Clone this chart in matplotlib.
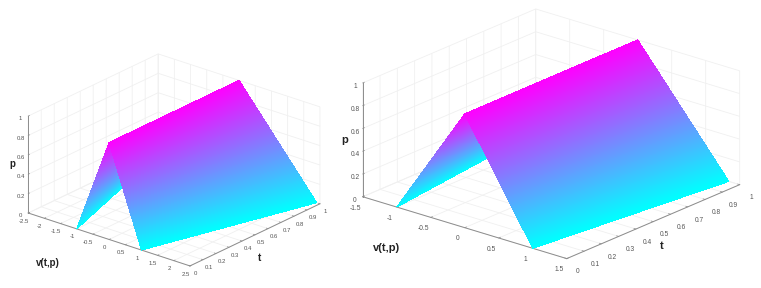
import numpy as np
import matplotlib
matplotlib.use("Agg")
import matplotlib.pyplot as plt

plt.rcParams['font.family'] = ['Liberation Sans', 'DejaVu Sans']

W, H = 761, 288

# values: membership p against v at the two ends of t
t_ends = [0, 1]
p_left_side = [0, 1]
p_right_side = [1, 0]
v_left_a = [[-1, 0], [-2.4, 0]]
v_right_a = [[0, 1], [0, 2.4]]
v_left_b = [[-1, 0], [-1.34, 0]]
v_right_b = [[0, 1], [0, 1.34]]

v_ticks_a = [-2.5, -2, -1.5, -1, -0.5, 0, 0.5, 1, 1.5, 2, 2.5]
v_labels_a = ['-2.5', '-2', '-1.5', '-1', '-0.5', '0', '0.5', '1', '1.5', '2', '2.5']
v_ticks_b = [-1.5, -1, -0.5, 0, 0.5, 1, 1.5]
v_labels_b = ['-1.5', '-1', '-0.5', '0', '0.5', '1', '1.5']
t_ticks = [0, 0.1, 0.2, 0.3, 0.4, 0.5, 0.6, 0.7, 0.8, 0.9, 1]
t_labels = ['0', '0.1', '0.2', '0.3', '0.4', '0.5', '0.6', '0.7', '0.8', '0.9', '1']
p_ticks = [0, 0.2, 0.4, 0.6, 0.8, 1]
p_labels = ['0', '0.2', '0.4', '0.6', '0.8', '1']

GRID = '#f0f0f0'
AXIS = '#8c8c8c'
TICK_TXT = '#555555'
BANDS = 120  # only splits each flat face finely so the colour can grade


def px_rect(left, top, size):
    return [left / W, (H - top - size) / H, size / W, size / H]


def fill_face(ax, v_rows, p_pair, order):
    # split the face between its two read-off p values for the colour ramp
    s = np.linspace(0, 1, BANDS + 1)
    t_grid, s_grid = np.meshgrid(t_ends, s)
    v0 = np.array(v_rows)[:, 0]
    v1 = np.array(v_rows)[:, 1]
    vv = v0[None, :] * (1 - s_grid) + v1[None, :] * s_grid
    pp = p_pair[0] * (1 - s_grid) + p_pair[1] * s_grid
    ax.plot_surface(vv, t_grid, pp, cmap='cool', vmin=0, vmax=1, rstride=1, cstride=1,
                    linewidth=0, antialiased=False, shade=False, zorder=order)


def panel(rect, elev, azim, aspect, v_left, v_right, v_ticks, v_labels, v_lim, fs, xpad, ypad):
    ax = fig.add_axes(rect, projection='3d', proj_type='ortho', computed_zorder=False)
    ax.view_init(elev=elev, azim=azim)
    ax.set_box_aspect(aspect)
    ax.patch.set_alpha(0)
    fill_face(ax, v_left, p_left_side, 3)
    fill_face(ax, v_right, p_right_side, 4)
    ax.set_xlim(-v_lim, v_lim)
    ax.set_ylim(0, 1)
    ax.set_zlim(0, 1)
    ax.set_xticks(v_ticks, v_labels)
    ax.set_yticks(t_ticks, t_labels)
    ax.set_zticks(p_ticks, p_labels)
    ax.zaxis.set_ticks_position('lower')
    for a in (ax.xaxis, ax.yaxis, ax.zaxis):
        a.set_pane_color((1, 1, 1, 0))
        a.pane.set_edgecolor(GRID)
        a.line.set_color(AXIS)
        a.line.set_linewidth(0.7)
        a._axinfo['grid'].update(color=GRID, linewidth=0.6)
        a._axinfo['tick'].update(inward_factor=0.0, outward_factor=0.12)
        a._axinfo['tick']['linewidth'] = {True: 0.5, False: 0.4}
        a._axinfo['tick']['color'] = AXIS
    ax.tick_params(axis='x', labelsize=fs, labelcolor=TICK_TXT, pad=xpad, color=AXIS)
    ax.tick_params(axis='y', labelsize=fs, labelcolor=TICK_TXT, pad=ypad, color=AXIS)
    ax.tick_params(axis='z', labelsize=fs, labelcolor=TICK_TXT, pad=-5, color=AXIS)
    return ax


def label(x, y, s, size):
    fig.text(x / W, 1 - y / H, s, fontsize=size, fontweight='bold', ha='center', va='center',
             color='#222222')


fig = plt.figure(figsize=(W / 100, H / 100), dpi=100)

panel(px_rect(19, 13, 302), 23.3, -50.4, (210, 204, 105.6), v_left_a, v_right_a,
      v_ticks_a, v_labels_a, 2.5, 4.3, -4, -4)
panel(px_rect(353, -54, 386), 21.1, -49.9, (266.6, 268.4, 122), v_left_b, v_right_b,
      v_ticks_b, v_labels_b, 1.5, 4.8, -2, 0)

label(12, 164, 'p', 7)
label(48, 263, 'v(t,p)', 7)
label(259, 258, 't', 7)
label(345, 140, 'p', 8)
label(387, 248, 'v(t,p)', 8)
label(662, 246, 't', 8)

fig.savefig('out.png', dpi=100)
